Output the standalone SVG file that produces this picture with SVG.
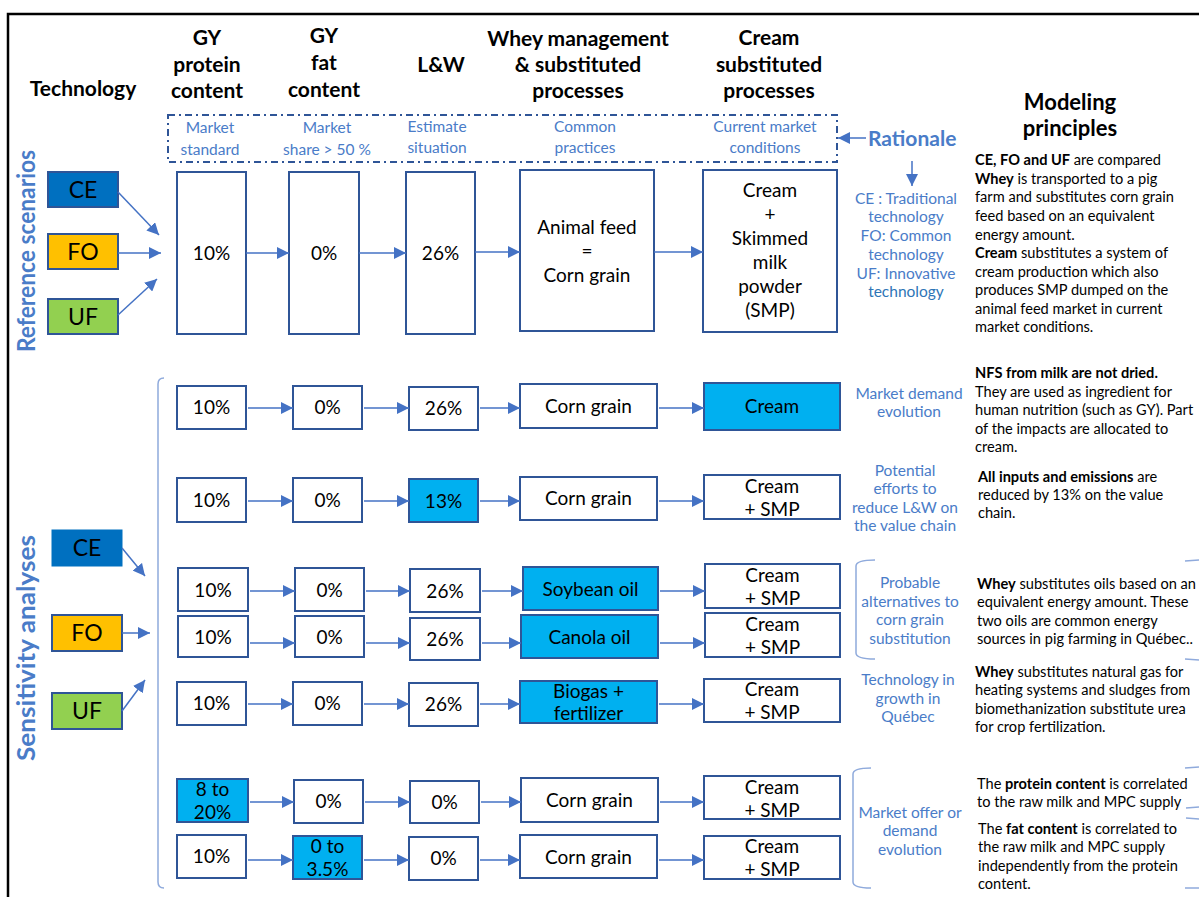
<svg xmlns="http://www.w3.org/2000/svg" width="1199" height="897" viewBox="0 0 1199 897">
<style>
text{font-family:Lato,"Open Sans","Liberation Sans",sans-serif;fill:#000}
.box{fill:#fff;stroke:#2F5597;stroke-width:2}
.hl{fill:#00B0F0;stroke:#2F5597;stroke-width:2}
.h{font-weight:bold;font-size:21px;text-anchor:middle}
.v{font-size:19px;text-anchor:middle}
.tech{font-size:23px;text-anchor:middle}
.r{font-size:15.5px;fill:#4A7CC8;text-anchor:middle}
.m{font-size:14.6px}
.b{font-weight:bold}
.side{font-weight:bold;font-size:24px;fill:#4A7CC8;text-anchor:middle}
.a{stroke:#4472C4;stroke-width:1.5;fill:none;marker-end:url(#ah)}
.br{stroke:#8FAADC;stroke-width:1.5;fill:none}
</style>
<defs>
<marker id="ah" viewBox="0 0 12 12" refX="12" refY="6" markerWidth="12" markerHeight="12" markerUnits="userSpaceOnUse" orient="auto"><path d="M0,0 L12,6 L0,12 z" fill="#4472C4"/></marker>
</defs>
<rect width="1199" height="897" fill="#fff"/>
<path d="M8,897 L8,14 L1199,14" fill="none" stroke="#000" stroke-width="2.5"/>

<g id="headers">
<text class="h" x="83" y="96">Technology</text>
<text class="h" x="207" y="45">GY</text><text class="h" x="207" y="72">protein</text><text class="h" x="207" y="98">content</text>
<text class="h" x="324" y="43">GY</text><text class="h" x="324" y="70">fat</text><text class="h" x="324" y="97">content</text>
<text class="h" x="441" y="72">L&amp;W</text>
<text class="h" x="578" y="46">Whey management</text><text class="h" x="578" y="72">&amp; substituted</text><text class="h" x="578" y="98">processes</text>
<text class="h" x="769" y="45">Cream</text><text class="h" x="769" y="72">substituted</text><text class="h" x="769" y="98">processes</text>
<text class="h" x="1070" y="110" style="font-size:22px">Modeling</text><text class="h" x="1070" y="136" style="font-size:22px">principles</text>
</g>

<g id="side-labels">
<text class="side" transform="translate(35,251) rotate(-90)" textLength="202" lengthAdjust="spacingAndGlyphs">Reference scenarios</text>
<text class="side" transform="translate(35,648) rotate(-90)" textLength="226" lengthAdjust="spacingAndGlyphs">Sensitivity analyses</text>
</g>

<g id="rationale-box">
<rect x="168" y="115" width="669" height="47" fill="none" stroke="#2F5597" stroke-width="2" stroke-dasharray="7 4 2 4"/>
<text class="r" x="210" y="133">Market</text><text class="r" x="210" y="155">standard</text>
<text class="r" x="327" y="133">Market</text><text class="r" x="327" y="155">share &gt; 50 %</text>
<text class="r" x="437" y="132">Estimate</text><text class="r" x="437" y="153">situation</text>
<text class="r" x="585" y="132">Common</text><text class="r" x="585" y="153">practices</text>
<text class="r" x="765" y="132">Current market</text><text class="r" x="765" y="153">conditions</text>
</g>

<g id="rationale">
<text x="868" y="146" style="font-weight:bold;font-size:21px;fill:#4A7CC8">Rationale</text>
<text class="r" x="906" y="204">CE : Traditional</text>
<text class="r" x="906" y="222">technology</text>
<text class="r" x="906" y="241">FO: Common</text>
<text class="r" x="906" y="260">technology</text>
<text class="r" x="906" y="279">UF: Innovative</text>
<text class="r" x="906" y="297" style="fill:#2E75B6">technology</text>
</g>

<g id="principles-ref">
<text class="m" x="975" y="165"><tspan class="b">CE, FO and UF</tspan> are compared</text>
<text class="m" x="975" y="184"><tspan class="b">Whey</tspan> is  transported to a pig</text>
<text class="m" x="975" y="202">farm and substitutes corn grain</text>
<text class="m" x="975" y="221">feed  based on an equivalent</text>
<text class="m" x="975" y="240">energy amount.</text>
<text class="m" x="975" y="258"> <tspan class="b">Cream</tspan> substitutes a system of</text>
<text class="m" x="975" y="277">cream production which also</text>
<text class="m" x="975" y="295">produces SMP dumped on the</text>
<text class="m" x="975" y="314">animal feed market in current</text>
<text class="m" x="975" y="332">market conditions.</text>
</g>

<g id="tech-ref-CE"><rect x="48" y="172" width="70" height="35" fill="#0070C0" stroke="#2F5597" stroke-width="2"/><text class="tech" x="83" y="198">CE</text></g>
<g id="tech-ref-FO"><rect x="48" y="234" width="70" height="35" fill="#FFC000" stroke="#2F5597" stroke-width="2"/><text class="tech" x="83" y="260">FO</text></g>
<g id="tech-ref-UF"><rect x="48" y="299" width="70" height="35" fill="#92D050" stroke="#2F5597" stroke-width="2"/><text class="tech" x="83" y="325">UF</text></g>

<g id="ref-prot"><rect class="box" x="177" y="172" width="69" height="162"/><text class="v" x="211.5" y="260">10%</text></g>
<g id="ref-fat"><rect class="box" x="289" y="172" width="70" height="162"/><text class="v" x="324" y="260">0%</text></g>
<g id="ref-lw"><rect class="box" x="406" y="172" width="69" height="162"/><text class="v" x="440.5" y="260">26%</text></g>
<g id="ref-whey"><rect class="box" x="520" y="170" width="134" height="161"/><text class="v" x="587" y="234">Animal feed</text><text class="v" x="587" y="258">=</text><text class="v" x="587" y="282">Corn grain</text></g>
<g id="ref-cream"><rect class="box" x="703" y="170" width="134" height="162"/><text class="v" x="770" y="197">Cream</text><text class="v" x="770" y="221">+</text><text class="v" x="770" y="245">Skimmed</text><text class="v" x="770" y="269">milk</text><text class="v" x="770" y="293">powder</text><text class="v" x="770" y="317">(SMP)</text></g>

<g id="tech-sa-CE"><rect x="52" y="530" width="70" height="36" fill="#0070C0" stroke="#0070C0" stroke-width="1"/><text class="tech" x="87" y="556">CE</text></g>
<g id="tech-sa-FO"><rect x="52" y="615" width="70" height="36" fill="#FFC000" stroke="#2F5597" stroke-width="2"/><text class="tech" x="87" y="641">FO</text></g>
<g id="tech-sa-UF"><rect x="52" y="693" width="70" height="36" fill="#92D050" stroke="#2F5597" stroke-width="2"/><text class="tech" x="87" y="719">UF</text></g>

<g id="r1-prot"><rect class="box" x="177" y="386" width="69" height="43"/><text class="v" x="211.5" y="414">10%</text></g>
<g id="r1-fat"><rect class="box" x="293" y="386" width="69" height="43"/><text class="v" x="327.5" y="414">0%</text></g>
<g id="r1-lw"><rect class="box" x="409" y="387" width="69" height="43"/><text class="v" x="443.5" y="415">26%</text></g>
<g id="r1-whey"><rect class="box" x="520" y="384" width="137" height="44"/><text class="v" x="588.5" y="413">Corn grain</text></g>
<g id="r1-cream"><rect class="hl" x="704" y="383" width="136" height="47"/><text class="v" x="772" y="413">Cream</text></g>

<g id="r2-prot"><rect class="box" x="177" y="478" width="69" height="44"/><text class="v" x="211.5" y="507">10%</text></g>
<g id="r2-fat"><rect class="box" x="293" y="478" width="69" height="44"/><text class="v" x="327.5" y="507">0%</text></g>
<g id="r2-lw"><rect class="hl" x="409" y="479" width="69" height="43"/><text class="v" x="443.5" y="508">13%</text></g>
<g id="r2-whey"><rect class="box" x="520" y="477" width="137" height="43"/><text class="v" x="588.5" y="505">Corn grain</text></g>
<g id="r2-cream"><rect class="box" x="704" y="475" width="136" height="44"/><text class="v" x="772" y="493">Cream</text><text class="v" x="772" y="516">+ SMP</text></g>

<g id="r3-prot"><rect class="box" x="178" y="568" width="70" height="43"/><text class="v" x="213" y="597">10%</text></g>
<g id="r3-fat"><rect class="box" x="295" y="568" width="69" height="43"/><text class="v" x="329.5" y="597">0%</text></g>
<g id="r3-lw"><rect class="box" x="410" y="569" width="70" height="43"/><text class="v" x="445" y="598">26%</text></g>
<g id="r3-whey"><rect class="hl" x="523" y="567" width="135" height="43"/><text class="v" x="590.5" y="596">Soybean oil</text></g>
<g id="r3-cream"><rect class="box" x="705" y="564" width="135" height="44"/><text class="v" x="772.5" y="582">Cream</text><text class="v" x="772.5" y="605">+ SMP</text></g>

<g id="r4-prot"><rect class="box" x="178" y="616" width="70" height="41"/><text class="v" x="213" y="644">10%</text></g>
<g id="r4-fat"><rect class="box" x="295" y="616" width="69" height="41"/><text class="v" x="329.5" y="644">0%</text></g>
<g id="r4-lw"><rect class="box" x="410" y="618" width="70" height="42"/><text class="v" x="445" y="646">26%</text></g>
<g id="r4-whey"><rect class="hl" x="521" y="615" width="137" height="43"/><text class="v" x="589.5" y="644">Canola oil</text></g>
<g id="r4-cream"><rect class="box" x="705" y="613" width="135" height="44"/><text class="v" x="772.5" y="631">Cream</text><text class="v" x="772.5" y="654">+ SMP</text></g>

<g id="r5-prot"><rect class="box" x="177" y="682" width="69" height="43"/><text class="v" x="211.5" y="710">10%</text></g>
<g id="r5-fat"><rect class="box" x="293" y="682" width="69" height="43"/><text class="v" x="327.5" y="710">0%</text></g>
<g id="r5-lw"><rect class="box" x="409" y="683" width="69" height="43"/><text class="v" x="443.5" y="711">26%</text></g>
<g id="r5-whey"><rect class="hl" x="520" y="681" width="137" height="42"/><text class="v" x="588.5" y="698">Biogas +</text><text class="v" x="588.5" y="720">fertilizer</text></g>
<g id="r5-cream"><rect class="box" x="704" y="679" width="136" height="43"/><text class="v" x="772" y="696">Cream</text><text class="v" x="772" y="719">+ SMP</text></g>

<g id="r6-prot"><rect class="hl" x="177" y="779" width="71" height="43"/><text class="v" x="212.5" y="796">8 to</text><text class="v" x="212.5" y="819">20%</text></g>
<g id="r6-fat"><rect class="box" x="294" y="780" width="69" height="43"/><text class="v" x="328.5" y="808">0%</text></g>
<g id="r6-lw"><rect class="box" x="410" y="781" width="69" height="42"/><text class="v" x="444.5" y="809">0%</text></g>
<g id="r6-whey"><rect class="box" x="521" y="778" width="137" height="44"/><text class="v" x="589.5" y="807">Corn grain</text></g>
<g id="r6-cream"><rect class="box" x="704" y="776" width="136" height="43"/><text class="v" x="772" y="794">Cream</text><text class="v" x="772" y="817">+ SMP</text></g>

<g id="r7-prot"><rect class="box" x="177" y="835" width="69" height="43"/><text class="v" x="211.5" y="863">10%</text></g>
<g id="r7-fat"><rect class="hl" x="293" y="836" width="69" height="43"/><text class="v" x="327.5" y="853">0 to</text><text class="v" x="327.5" y="876">3.5%</text></g>
<g id="r7-lw"><rect class="box" x="409" y="837" width="69" height="43"/><text class="v" x="443.5" y="865">0%</text></g>
<g id="r7-whey"><rect class="box" x="520" y="835" width="137" height="43"/><text class="v" x="588.5" y="864">Corn grain</text></g>
<g id="r7-cream"><rect class="box" x="704" y="836" width="136" height="43"/><text class="v" x="772" y="853">Cream</text><text class="v" x="772" y="876">+ SMP</text></g>

<g id="rationale-sa">
<text class="r" x="909" y="399">Market demand</text><text class="r" x="909" y="417">evolution</text>
<text class="r" x="905" y="476">Potential</text><text class="r" x="905" y="494">efforts to</text><text class="r" x="905" y="513">reduce L&amp;W on</text><text class="r" x="905" y="531">the value chain</text>
<text class="r" x="910" y="588">Probable</text><text class="r" x="910" y="607">alternatives to</text><text class="r" x="910" y="625">corn grain</text><text class="r" x="910" y="644">substitution</text>
<text class="r" x="908" y="685">Technology in</text><text class="r" x="908" y="704">growth in</text><text class="r" x="908" y="722">Québec</text>
<text class="r" x="910" y="818">Market offer or</text><text class="r" x="910" y="836">demand</text><text class="r" x="910" y="855">evolution</text>
</g>

<g id="principles-sa">
<text class="m" x="975" y="378"><tspan class="b">NFS from milk are not dried.</tspan></text>
<text class="m" x="975" y="397">They are used as ingredient for</text>
<text class="m" x="975" y="415">human nutrition (such as GY). Part</text>
<text class="m" x="975" y="434">of the impacts are allocated to</text>
<text class="m" x="975" y="452">cream.</text>
<text class="m" x="978" y="482"><tspan class="b">All inputs and emissions</tspan> are</text>
<text class="m" x="978" y="500">reduced by 13% on the value</text>
<text class="m" x="978" y="518">chain.</text>
<text class="m" x="977" y="589"><tspan class="b">Whey</tspan> substitutes oils based on an</text>
<text class="m" x="977" y="607">equivalent energy amount. These</text>
<text class="m" x="977" y="626">two oils are common energy</text>
<text class="m" x="977" y="644">sources in pig farming in Québec..</text>
<text class="m" x="975" y="677"><tspan class="b">Whey</tspan> substitutes natural gas for</text>
<text class="m" x="975" y="695">heating systems and sludges from</text>
<text class="m" x="975" y="714">biomethanization substitute urea</text>
<text class="m" x="975" y="732">for crop fertilization.</text>
<text class="m" x="977" y="789">The <tspan class="b">protein content</tspan> is correlated</text>
<text class="m" x="977" y="807">to the raw milk and MPC supply</text>
<text class="m" x="978" y="834">The <tspan class="b">fat content</tspan> is correlated to</text>
<text class="m" x="978" y="852">the raw milk and MPC supply</text>
<text class="m" x="978" y="871">independently from the protein</text>
<text class="m" x="978" y="889">content.</text>
</g>

<g id="brackets">
<path class="br" d="M164,378 Q158,378 158,384 L158,882 Q158,888 164,888"/>
<path class="br" d="M875,560 Q856,560 856,566 L856,653 Q856,659 875,659"/>
<path class="br" d="M871,768 Q853,768 853,774 L853,882 Q853,888 871,888"/>
<path class="br" d="M1185,561 L1199,560"/>
<path class="br" d="M1185,659 L1199,660"/>
<path class="br" d="M1185,768 L1199,767"/>
<path class="br" d="M1186,808 L1199,807"/>
<path class="br" d="M1186,818 L1199,819"/>
<path class="br" d="M1185,888 L1199,888"/>
</g>

<g id="connectors">
<path class="a" d="M118,192 L159,235"/>
<path class="a" d="M118,253 L161,253"/>
<path class="a" d="M118,315 L157,279"/>
<path class="a" d="M246,253 L289,253"/>
<path class="a" d="M359,253 L406,253"/>
<path class="a" d="M475,252 L520,252"/>
<path class="a" d="M654,252 L703,252"/>
<path class="a" d="M866,138 L838,138"/>
<path class="a" d="M912,161 L912,186"/>
<path class="a" d="M122,548 L145,576"/>
<path class="a" d="M122,633 L150,633"/>
<path class="a" d="M122,711 L145,680"/>
<path class="a" d="M248,408 L293,408"/><path class="a" d="M364,408 L409,408"/><path class="a" d="M480,408 L520,408"/><path class="a" d="M659,408 L704,408"/>
<path class="a" d="M248,501 L293,501"/><path class="a" d="M364,501 L409,501"/><path class="a" d="M480,501 L520,501"/><path class="a" d="M659,501 L704,501"/>
<path class="a" d="M250,591 L295,591"/><path class="a" d="M366,591 L410,591"/><path class="a" d="M482,591 L523,591"/><path class="a" d="M660,591 L705,591"/>
<path class="a" d="M250,643 L295,643"/><path class="a" d="M366,643 L410,643"/><path class="a" d="M482,643 L521,643"/><path class="a" d="M660,643 L705,643"/>
<path class="a" d="M248,704 L293,704"/><path class="a" d="M364,704 L409,704"/><path class="a" d="M480,704 L520,704"/><path class="a" d="M659,704 L704,704"/>
<path class="a" d="M250,802 L294,802"/><path class="a" d="M365,802 L410,802"/><path class="a" d="M481,802 L521,802"/><path class="a" d="M660,802 L704,802"/>
<path class="a" d="M248,860 L293,860"/><path class="a" d="M364,860 L409,860"/><path class="a" d="M480,860 L520,860"/><path class="a" d="M659,860 L704,860"/>
</g>
</svg>
